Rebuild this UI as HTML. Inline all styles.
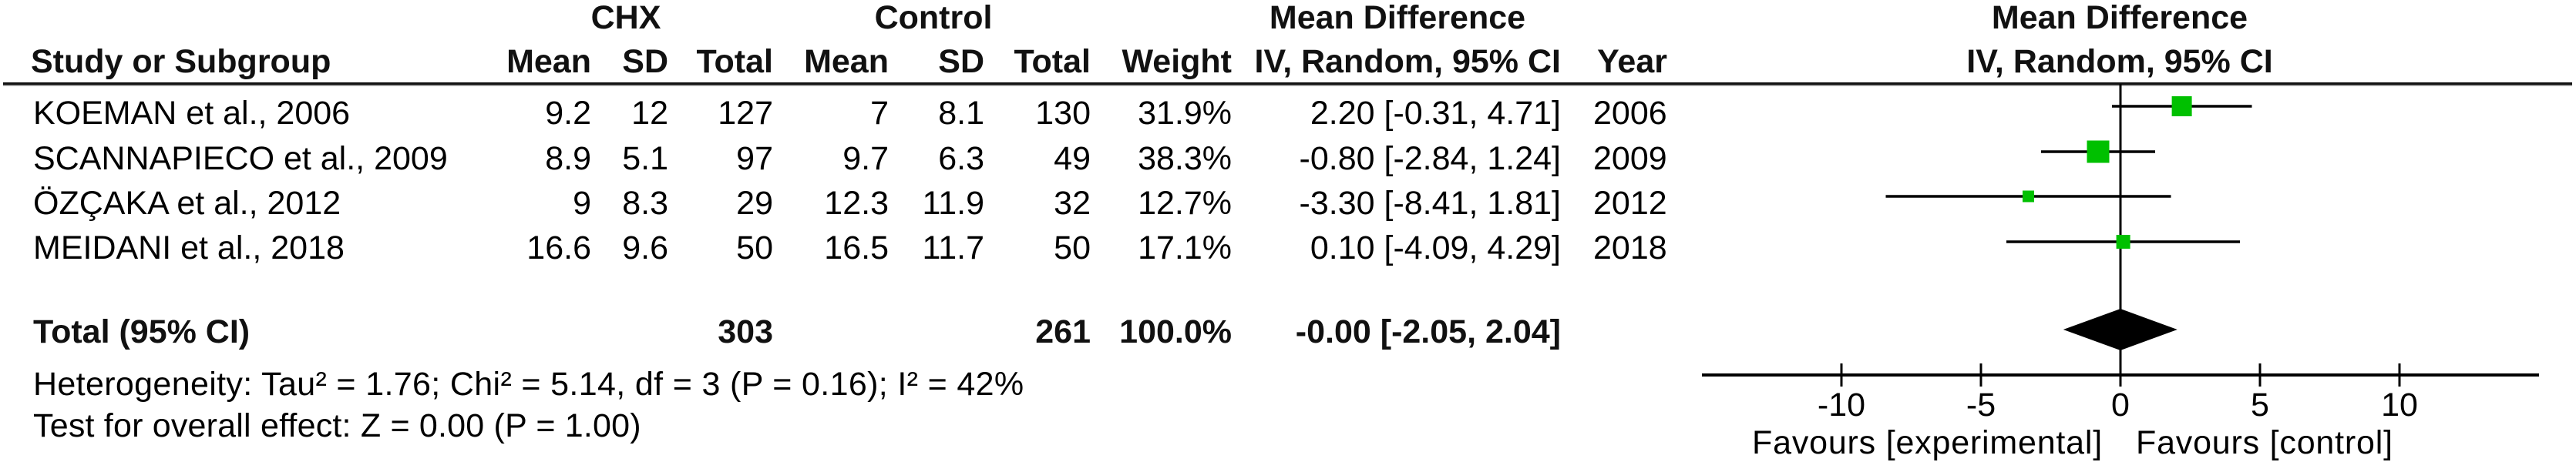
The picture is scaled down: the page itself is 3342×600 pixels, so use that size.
<!DOCTYPE html>
<html>
<head>
<meta charset="utf-8">
<style>
html,body{margin:0;padding:0;background:#fff;}
body{width:3342px;height:600px;overflow:hidden;}
svg{display:block;}
text{font-family:"Liberation Sans","DejaVu Sans",sans-serif;font-size:43px;fill:#000;}
.b{font-weight:bold;fill:#111;}
.e{text-anchor:end;}
.m{text-anchor:middle;}
</style>
</head>
<body>
<svg width="3342" height="600" viewBox="0 0 3342 600" xmlns="http://www.w3.org/2000/svg">
<rect x="0" y="0" width="3342" height="600" fill="#fff"/>

<!-- header row 1 -->
<text class="b m" x="812" y="37">CHX</text>
<text class="b m" x="1211" y="37">Control</text>
<text class="b m" x="1813" y="37">Mean Difference</text>
<text class="b m" x="2750" y="37">Mean Difference</text>

<!-- header row 2 -->
<text class="b" x="40" y="94">Study or Subgroup</text>
<text class="b e" x="767" y="94">Mean</text>
<text class="b e" x="867" y="94">SD</text>
<text class="b e" x="1003" y="94">Total</text>
<text class="b e" x="1153" y="94">Mean</text>
<text class="b e" x="1277" y="94">SD</text>
<text class="b e" x="1415" y="94">Total</text>
<text class="b e" x="1598" y="94">Weight</text>
<text class="b e" x="2025" y="94">IV, Random, 95% CI</text>
<text class="b e" x="2163" y="94">Year</text>
<text class="b m" x="2750" y="94">IV, Random, 95% CI</text>

<rect x="4" y="107" width="3333" height="3" fill="#111"/>
<rect x="4" y="110" width="3333" height="1.5" fill="#777"/>

<!-- row 1 -->
<text x="43" y="161">KOEMAN et al., 2006</text>
<text class="e" x="767" y="161">9.2</text>
<text class="e" x="867" y="161">12</text>
<text class="e" x="1003" y="161">127</text>
<text class="e" x="1153" y="161">7</text>
<text class="e" x="1277" y="161">8.1</text>
<text class="e" x="1415" y="161">130</text>
<text class="e" x="1598" y="161">31.9%</text>
<text class="e" x="2025" y="161">2.20 [-0.31, 4.71]</text>
<text x="2067" y="161">2006</text>

<!-- row 2 -->
<text x="43" y="220">SCANNAPIECO et al., 2009</text>
<text class="e" x="767" y="220">8.9</text>
<text class="e" x="867" y="220">5.1</text>
<text class="e" x="1003" y="220">97</text>
<text class="e" x="1153" y="220">9.7</text>
<text class="e" x="1277" y="220">6.3</text>
<text class="e" x="1415" y="220">49</text>
<text class="e" x="1598" y="220">38.3%</text>
<text class="e" x="2025" y="220">-0.80 [-2.84, 1.24]</text>
<text x="2067" y="220">2009</text>

<!-- row 3 -->
<text x="43" y="278">ÖZÇAKA et al., 2012</text>
<text class="e" x="767" y="278">9</text>
<text class="e" x="867" y="278">8.3</text>
<text class="e" x="1003" y="278">29</text>
<text class="e" x="1153" y="278">12.3</text>
<text class="e" x="1277" y="278">11.9</text>
<text class="e" x="1415" y="278">32</text>
<text class="e" x="1598" y="278">12.7%</text>
<text class="e" x="2025" y="278">-3.30 [-8.41, 1.81]</text>
<text x="2067" y="278">2012</text>

<!-- row 4 -->
<text x="43" y="336">MEIDANI et al., 2018</text>
<text class="e" x="767" y="336">16.6</text>
<text class="e" x="867" y="336">9.6</text>
<text class="e" x="1003" y="336">50</text>
<text class="e" x="1153" y="336">16.5</text>
<text class="e" x="1277" y="336">11.7</text>
<text class="e" x="1415" y="336">50</text>
<text class="e" x="1598" y="336">17.1%</text>
<text class="e" x="2025" y="336">0.10 [-4.09, 4.29]</text>
<text x="2067" y="336">2018</text>

<!-- total -->
<text class="b" x="43" y="445">Total (95% CI)</text>
<text class="b e" x="1003" y="445">303</text>
<text class="b e" x="1415" y="445">261</text>
<text class="b e" x="1598" y="445">100.0%</text>
<text class="b e" x="2025" y="445">-0.00 [-2.05, 2.04]</text>

<text x="43" y="513" style="letter-spacing:0.35px">Heterogeneity: Tau² = 1.76; Chi² = 5.14, df = 3 (P = 0.16); I² = 42%</text>
<text x="43" y="567" style="letter-spacing:0.2px">Test for overall effect: Z = 0.00 (P = 1.00)</text>

<!-- forest plot -->
<g stroke="#000" fill="none">
  <line x1="2751" y1="109" x2="2751" y2="502" stroke-width="3"/>
  <line x1="2208" y1="487" x2="3294" y2="487" stroke-width="4"/>
  <line x1="2389" y1="472" x2="2389" y2="502" stroke-width="3"/>
  <line x1="2570" y1="472" x2="2570" y2="502" stroke-width="3"/>
  <line x1="2932" y1="472" x2="2932" y2="502" stroke-width="3"/>
  <line x1="3113" y1="472" x2="3113" y2="502" stroke-width="3"/>
  <line x1="2740" y1="138" x2="2921.5" y2="138" stroke-width="3.5"/>
  <line x1="2648" y1="197" x2="2796" y2="197" stroke-width="3.5"/>
  <line x1="2446.5" y1="255" x2="2816.5" y2="255" stroke-width="3.5"/>
  <line x1="2603" y1="314" x2="2906" y2="314" stroke-width="3.5"/>
</g>
<g fill="#00c000">
  <rect x="2817.6" y="125" width="26" height="26"/>
  <rect x="2707.5" y="182.5" width="29" height="29"/>
  <rect x="2624" y="247.5" width="15" height="15"/>
  <rect x="2745.6" y="305" width="18" height="18"/>
</g>
<polygon points="2676.8,428 2751,401 2824.8,428 2751,455" fill="#000"/>

<text class="m" x="2389" y="540">-10</text>
<text class="m" x="2570" y="540">-5</text>
<text class="m" x="2751" y="540">0</text>
<text class="m" x="2932" y="540">5</text>
<text class="m" x="3113" y="540">10</text>
<text class="e" x="2728" y="589" style="letter-spacing:0.8px">Favours [experimental]</text>
<text x="2771" y="589" style="letter-spacing:0.8px">Favours [control]</text>
</svg>
</body>
</html>
